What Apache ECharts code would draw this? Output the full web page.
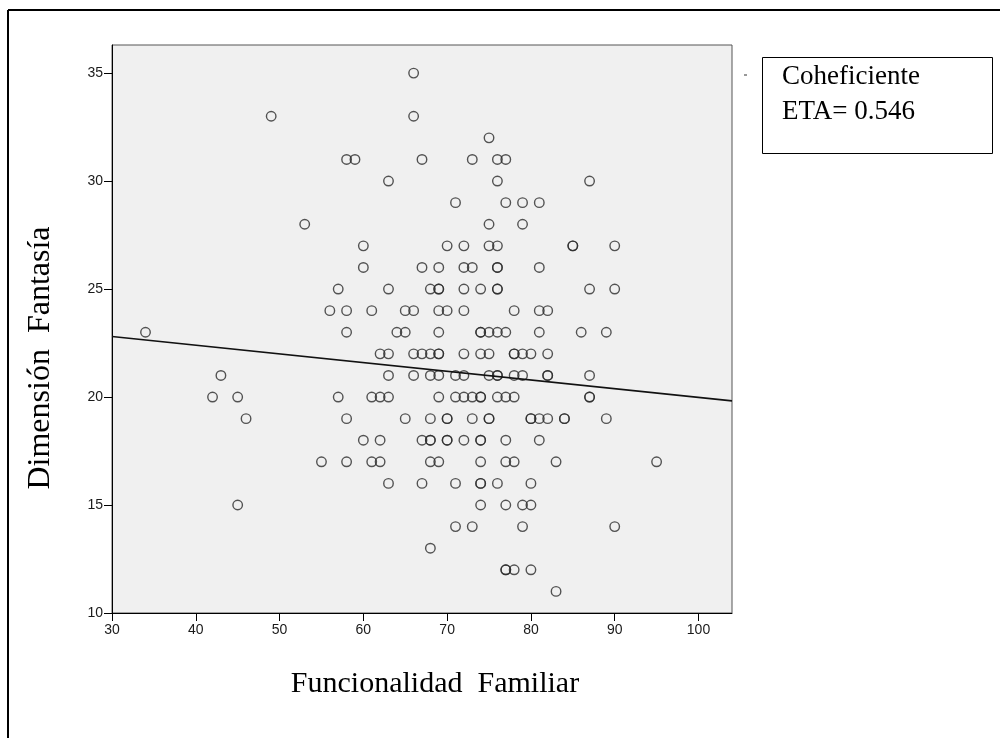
<!DOCTYPE html>
<html>
<head>
<meta charset="utf-8">
<script src="https://cdn.jsdelivr.net/npm/echarts@6/dist/echarts.min.js"></script>
<style>
html,body{margin:0;padding:0;background:#fff;}
#chart{width:1000px;height:738px;}
</style>
</head>
<body>
<div id="chart"></div>
<script>
// Funcionalidad Familiar (x) and Dimensión Fantasía (y), one entry per case
const funcionalidad = [
  34,42,43,45,45,46,49,53,
  55,56,57,57,58,58,58,58,58,59,60,60,60,61,61,61,62,62,62,62,
  63,63,63,63,63,63,64,65,65,65,66,66,66,66,66,
  67,67,67,67,67,68,68,68,68,68,68,68,68,
  69,69,69,69,69,69,69,69,69,69,
  70,70,70,70,70,70,
  71,71,71,71,71,
  72,72,72,72,72,72,72,72,
  73,73,73,73,73,
  74,74,74,74,74,74,74,74,74,74,74,74,
  75,75,75,75,75,75,75,75,
  76,76,76,76,76,76,76,76,76,76,76,76,
  77,77,77,77,77,77,77,77,77,
  78,78,78,78,78,78,78,
  79,79,79,79,79,79,
  80,80,80,80,80,80,
  81,81,81,81,81,81,
  82,82,82,82,82,
  83,83,84,84,85,85,86,
  87,87,87,87,87,
  89,89,90,90,90,95
];
const fantasia = [
  23,20,21,20,15,19,33,28,
  17,24,25,20,31,24,23,19,17,31,27,26,18,24,20,17,22,20,18,17,
  30,25,22,21,20,16,23,24,23,19,35,33,24,22,21,
  31,26,22,18,16,25,22,21,19,18,18,17,13,
  26,25,25,24,23,22,22,21,20,17,
  27,24,19,19,18,18,
  29,21,20,16,14,
  27,26,25,24,22,21,20,18,
  31,26,20,19,14,
  25,23,23,22,20,20,18,18,17,16,16,15,
  32,28,27,23,22,21,19,19,
  31,30,27,26,26,25,25,23,21,21,20,16,
  31,29,23,20,18,17,15,12,12,
  24,22,22,21,20,17,12,
  29,28,22,21,15,14,
  22,19,19,16,15,12,
  29,26,24,23,19,18,
  24,22,21,21,19,
  17,11,19,19,27,27,23,
  30,25,21,20,20,
  23,19,27,25,14,17
];
// Fit line endpoints
const fitX = [30, 104];
const fitY = [22.8, 19.82];
// Tick labels
const xTicks = [30,40,50,60,70,80,90,100];
const yTicks = [10,15,20,25,30,35];

const points = funcionalidad.map((x, i) => [x, fantasia[i]]);
const fitLine = fitX.map((x, i) => [x, fitY[i]]);

const chart = echarts.init(document.getElementById('chart'), null, {renderer: 'canvas'});
const labelFont = {fontFamily: '"Liberation Sans", Arial, sans-serif', fontSize: 14, color: '#1a1a1a'};
const serif = '"Liberation Serif", "Times New Roman", serif';

chart.setOption({
  animation: false,
  backgroundColor: '#ffffff',
  grid: {
    left: 112, top: 45, width: 620, height: 568,
    show: true, backgroundColor: '#f0f0f0', borderColor: '#555', borderWidth: 1
  },
  xAxis: {
    type: 'value', min: 30, max: 104, interval: 10,
    axisLine: {show: true, onZero: false, lineStyle: {color: '#000', width: 1}},
    axisTick: {show: true, length: 8, inside: false, customValues: xTicks, lineStyle: {color: '#000'}},
    axisLabel: Object.assign({margin: 10, customValues: xTicks}, labelFont),
    splitLine: {show: false}
  },
  yAxis: {
    type: 'value', min: 10, max: 36.3, interval: 5,
    axisLine: {show: true, onZero: false, lineStyle: {color: '#000', width: 1}},
    axisTick: {show: true, length: 8, inside: false, customValues: yTicks, lineStyle: {color: '#000'}},
    axisLabel: Object.assign({margin: 9, customValues: yTicks}, labelFont),
    splitLine: {show: false}
  },
  series: [
    {
      type: 'scatter',
      data: points,
      symbol: 'circle',
      symbolSize: 9.5,
      itemStyle: {color: 'rgba(0,0,0,0)', borderColor: '#2a2a2a', borderWidth: 1.4},
      z: 3
    },
    {
      type: 'line',
      data: fitLine,
      showSymbol: false,
      symbol: 'none',
      lineStyle: {color: '#111', width: 1.6},
      z: 4
    }
  ],
  graphic: [
    {type: 'line', shape: {x1: 8, y1: 10, x2: 1000, y2: 10}, style: {stroke: '#000', lineWidth: 2}},
    {type: 'line', shape: {x1: 8, y1: 10, x2: 8, y2: 738}, style: {stroke: '#000', lineWidth: 2}},
    {type: 'line', shape: {x1: 744, y1: 75, x2: 747, y2: 75}, style: {stroke: '#333', lineWidth: 1}},
    {type: 'rect', shape: {x: 762.5, y: 57.5, width: 230, height: 96}, style: {fill: '#fff', stroke: '#000', lineWidth: 1}},
    {type: 'text', x: 782, y: 90, style: {text: 'Coheficiente', font: '27px ' + serif, fill: '#000', verticalAlign: 'bottom'}},
    {type: 'text', x: 782, y: 125, style: {text: 'ETA= 0.546', font: '27px ' + serif, fill: '#000', verticalAlign: 'bottom'}},
    {type: 'text', x: 435, y: 684, style: {text: 'Funcionalidad  Familiar', font: '30px ' + serif, fill: '#000', align: 'center', verticalAlign: 'middle'}},
    {type: 'text', x: 41, y: 358, rotation: Math.PI / 2, style: {text: 'Dimensión  Fantasía', font: '32px ' + serif, fill: '#000', align: 'center', verticalAlign: 'middle'}}
  ]
});
</script>
</body>
</html>
